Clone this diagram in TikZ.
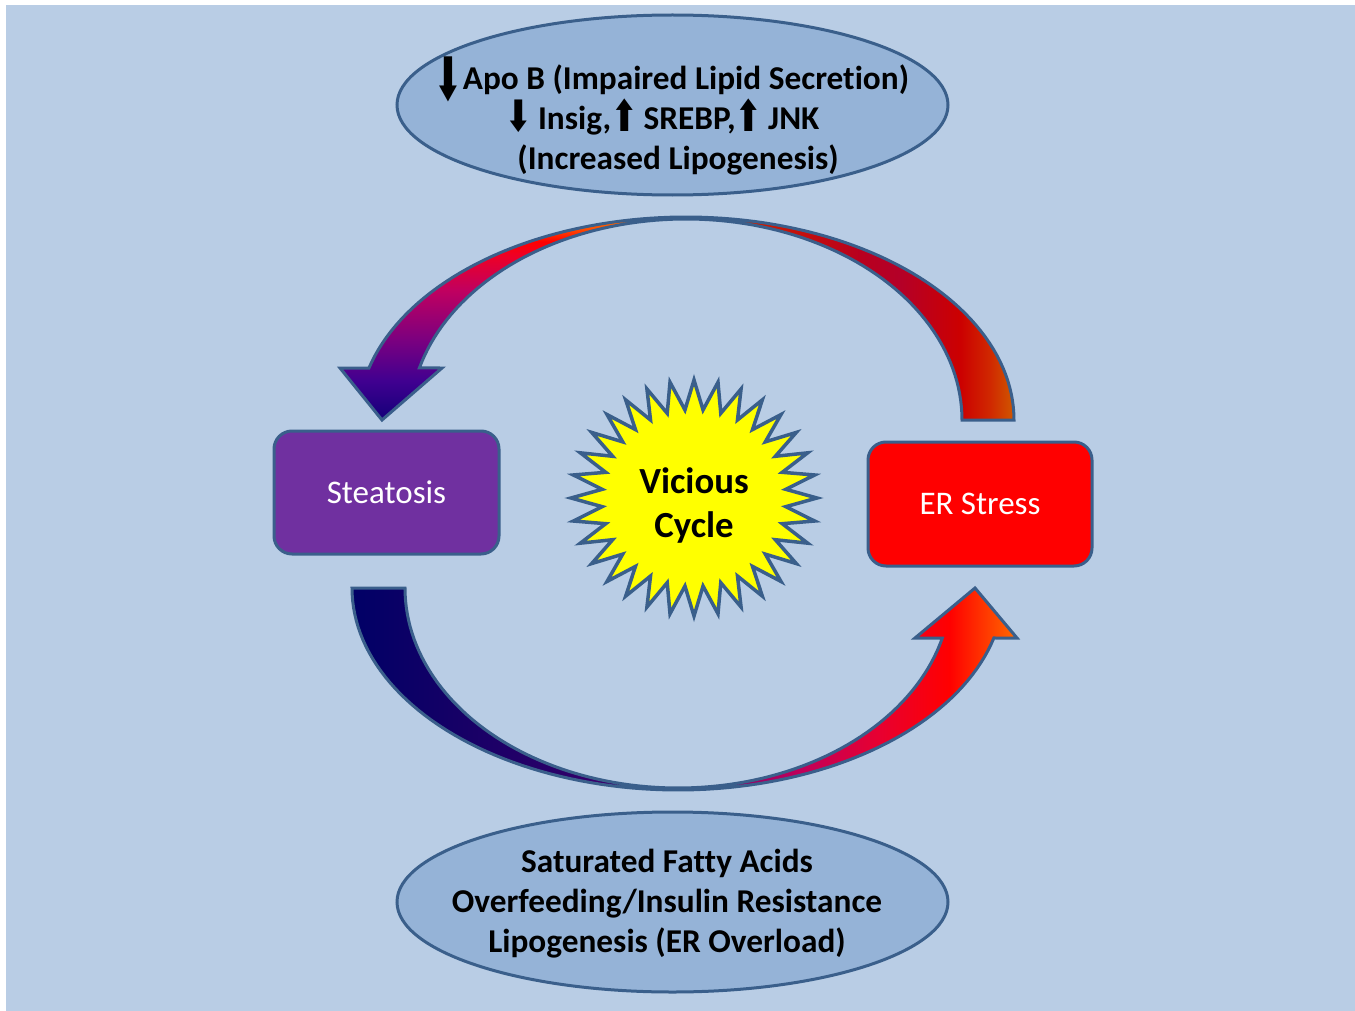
\documentclass[tikz,border=0pt]{standalone}
\usepackage{fontspec}
\usepackage{graphicx}
\setmainfont[Ligatures=NoCommon]{Carlito}
\newfontfamily\arrowfont{DejaVu Sans}
\usetikzlibrary{shapes.geometric}

\definecolor{bgblue}{HTML}{B9CDE5}
\definecolor{ovalfill}{HTML}{95B3D7}
\definecolor{edgeblue}{HTML}{3A5F8B}
\definecolor{steatfill}{HTML}{7030A0}
\definecolor{erfill}{HTML}{FF0000}
\definecolor{starfill}{HTML}{FFFF00}

% colour stops of the upper curved arrow (left half, bottom to top)
\definecolor{tlA}{HTML}{120078}
\definecolor{tlB}{HTML}{400090}
\definecolor{tlC}{HTML}{7A0080}
\definecolor{tlD}{HTML}{C00060}
\definecolor{tlE}{HTML}{EE0025}
\definecolor{tlF}{HTML}{FF0000}
\definecolor{tlG}{HTML}{FF5000}
\definecolor{tlH}{HTML}{FF7400}
% upper curved arrow, right half (left to right)
\definecolor{trA}{HTML}{D85000}
\definecolor{trB}{HTML}{CC1A00}
\definecolor{trC}{HTML}{B8001E}
\definecolor{trD}{HTML}{B40028}
\definecolor{trE}{HTML}{CC0000}
\definecolor{trF}{HTML}{D02800}
\definecolor{trG}{HTML}{D05800}
% lower curved arrow (left to right)
\definecolor{bA}{HTML}{000066}
\definecolor{bB}{HTML}{140066}
\definecolor{bC}{HTML}{2A0068}
\definecolor{bD}{HTML}{4A0070}
\definecolor{bE}{HTML}{80006A}
\definecolor{bF}{HTML}{C0005A}
\definecolor{bG}{HTML}{E80030}
\definecolor{bH}{HTML}{FF0000}
\definecolor{bI}{HTML}{FF6A00}

\pgfdeclareverticalshading{upperleft}{100bp}{color(0bp)=(tlA); color(25bp)=(tlA);
  color(34.85bp)=(tlB); color(44.7bp)=(tlC); color(57bp)=(tlD); color(65.6bp)=(tlE);
  color(69bp)=(tlF); color(72.3bp)=(tlG); color(75bp)=(tlH); color(100bp)=(tlH)}
\pgfdeclarehorizontalshading{upperright}{100bp}{color(0bp)=(trA); color(25bp)=(trA);
  color(36.3bp)=(trB); color(51.5bp)=(trC); color(57.6bp)=(trD); color(66.8bp)=(trE);
  color(71.3bp)=(trF); color(75bp)=(trG); color(100bp)=(trG)}
\pgfdeclarehorizontalshading{lowerarc}{100bp}{color(0bp)=(bA); color(25bp)=(bA);
  color(32.4bp)=(bB); color(40.6bp)=(bC); color(47.4bp)=(bD); color(52.6bp)=(bE);
  color(58.7bp)=(bF); color(64.7bp)=(bG); color(69.9bp)=(bH); color(75bp)=(bI);
  color(100bp)=(bI)}

% heavy up/down arrows set inside the text
\newcommand\longdown{\smash{\raisebox{-5.5pt}{\scalebox{1.0}[1.8]{\arrowfont ⬇}}}}
\newcommand\downarr{\smash{\raisebox{-1pt}{\scalebox{0.95}[1.3]{\arrowfont ⬇}}}}
\newcommand\uparr{\smash{\raisebox{-1pt}{\scalebox{0.95}[1.3]{\arrowfont ⬆}}}}

\begin{document}
\begin{tikzpicture}[x=0.5pt,y=-0.5pt,
  ovalshape/.style={ellipse, draw=edgeblue, fill=ovalfill, line width=1.5pt,
    minimum width=275.5pt, minimum height=90pt, inner sep=0pt},
  ovaltext/.style={align=center, inner sep=0pt, text=black,
    font=\fontsize{16.65pt}{20pt}\selectfont\bfseries},
  stagebox/.style={rectangle, rounded corners=9pt, draw=edgeblue, line width=1.5pt,
    text=white, inner sep=0pt, font=\fontsize{16.5pt}{19.8pt}\selectfont},
  blockarrow/.style={draw=edgeblue, line width=1.5pt, line join=miter},
  burst/.style={draw=edgeblue, fill=starfill, line width=1.75pt, line join=miter}]

\useasboundingbox (0,0) rectangle (1355,1011);
\fill[bgblue] (6,5) rectangle (1355,1011);

% upper curved arrow: ER Stress back to Steatosis
\path[blockarrow, path picture={
    \shade[shading=upperleft] (330,217) rectangle (686.5,421);
    \shade[shading=upperright] (686,217) rectangle (1014,421);}]
  (1014,420) -- plot[domain=0:165.16, samples=90] ({686+328*cos(\x)},{420-203*sin(\x)})
  -- (340,368) -- (382,420) -- (442,368)
  -- plot[domain=165:0, samples=90] ({686+276*cos(\x)},{420-201*sin(\x)}) -- cycle;

% lower curved arrow: Steatosis to ER Stress
\path[blockarrow, path picture={
    \shade[shading=lowerarc] (352,585) rectangle (1017,792);}]
  (352,588) -- plot[domain=180:345.67, samples=90] ({678+326*cos(\x)},{588-202*sin(\x)})
  -- (1017,638) -- (975,588) -- (915,638)
  -- plot[domain=345.52:180, samples=90] ({678+273*cos(\x)},{588-200*sin(\x)}) -- cycle;

% ovals with the mechanisms
\node[ovalshape] (topoval) at (672.5,105) {};
\node[ovaltext] (toptext) at (672,120)
  {\longdown Apo B (Impaired Lipid Secretion)\\
   \downarr\hspace{3pt}Insig,\uparr\hspace{3pt}SREBP,\uparr\hspace{3pt}JNK\rule{9.5pt}{0pt}\\
   \rule{6pt}{0pt}(Increased Lipogenesis)};
\node[ovalshape] (bottomoval) at (672.5,902) {};
\node[ovaltext] (bottomtext) at (667,904)
  {Saturated Fatty Acids\\ Overfeeding/Insulin Resistance\\ Lipogenesis (ER Overload)};

% the two states
\node[stagebox, fill=steatfill, minimum width=112.5pt, minimum height=61.5pt]
  (steatosis) at (386.5,492.5) {Steatosis};
\node[stagebox, fill=erfill, minimum width=112pt, minimum height=62pt]
  (erstress) at (980,504) {ER Stress};

% 32-point burst in the middle
\draw[burst] plot[samples at={0,...,63}, variable=\k]
  ({694+123*(1-0.25*mod(\k,2))*cos(90+5.625*\k)},
   {498-118*(1-0.25*mod(\k,2))*sin(90+5.625*\k)}) -- cycle;
\node[align=center, inner sep=0pt, font=\fontsize{18.4pt}{22pt}\selectfont\bfseries]
  (vicious) at (694,505) {Vicious\\Cycle};
\end{tikzpicture}
\end{document}
